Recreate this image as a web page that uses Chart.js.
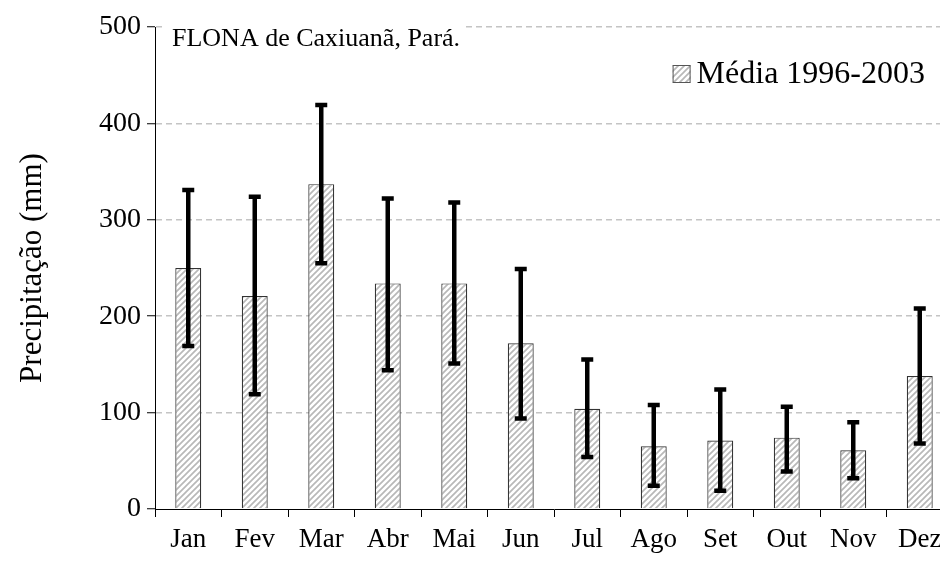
<!DOCTYPE html>
<html>
<head>
<meta charset="utf-8">
<script src="https://cdn.jsdelivr.net/npm/chart.js@4.4.0/dist/chart.umd.min.js"></script>
<style>
  html, body { margin: 0; padding: 0; background: #fff; overflow: hidden; }
</style>
</head>
<body>
<canvas id="rainChart" width="960" height="565"></canvas>
<script>
const months = ["Jan", "Fev", "Mar", "Abr", "Mai", "Jun", "Jul", "Ago", "Set", "Out", "Nov", "Dez"];
const rainMean = [250, 221, 337, 234, 234, 172, 104, 65, 71, 74, 61, 138];
const rainHigh = [331, 324, 419, 322, 318, 249, 155, 108, 124, 106, 90, 208];
const rainLow = [169, 119, 255, 144, 151, 94, 54, 24, 19, 39, 32, 68];
const yTicks = [0, 100, 200, 300, 400, 500];
const seriesLabel = "Média 1996-2003";
const siteTitle = "FLONA de Caxiuanã, Pará.";

const FONT = "'Liberation Serif', 'Times New Roman', serif";

// hachura diagonal cinza
function makeHatch() {
  const c = document.createElement("canvas");
  c.width = 6;
  c.height = 6;
  const g = c.getContext("2d");
  g.fillStyle = "#fff";
  g.fillRect(0, 0, 6, 6);
  g.strokeStyle = "#b8b8b8";
  g.lineWidth = 1.7;
  g.beginPath();
  g.moveTo(-1, 7); g.lineTo(7, -1);
  g.moveTo(-1, 1); g.lineTo(1, -1);
  g.moveTo(5, 7); g.lineTo(7, 5);
  g.stroke();
  return g.createPattern(c, "repeat");
}
const hatch = makeHatch();

// barras de erro, título e legenda
const extras = {
  id: "extras",
  afterDatasetsDraw(chart) {
    const ctx = chart.ctx;
    const meta = chart.getDatasetMeta(0);
    const y = chart.scales.y;
    ctx.save();
    ctx.strokeStyle = "#000";
    ctx.lineWidth = 4.5;
    meta.data.forEach((bar, i) => {
      const yHi = y.getPixelForValue(rainHigh[i]);
      const yLo = y.getPixelForValue(rainLow[i]);
      ctx.beginPath();
      ctx.moveTo(bar.x, yHi);
      ctx.lineTo(bar.x, yLo);
      ctx.moveTo(bar.x - 6, yHi);
      ctx.lineTo(bar.x + 6, yHi);
      ctx.moveTo(bar.x - 6, yLo);
      ctx.lineTo(bar.x + 6, yLo);
      ctx.stroke();
    });
    ctx.restore();
  },
  afterDraw(chart) {
    const ctx = chart.ctx;
    const area = chart.chartArea;
    ctx.save();
    ctx.textBaseline = "middle";

    // título dentro do gráfico
    ctx.font = "26px " + FONT;
    const tw = ctx.measureText(siteTitle).width;
    ctx.fillStyle = "#fff";
    ctx.fillRect(area.left + 10, area.top - 6, tw + 12, 34);
    ctx.fillStyle = "#000";
    ctx.fillText(siteTitle, area.left + 17, area.top + 12);

    // legenda
    ctx.font = "32px " + FONT;
    const lw = ctx.measureText(seriesLabel).width;
    const tx = area.right - 28 - lw;
    const ly = area.top + 47;
    ctx.fillStyle = hatch;
    ctx.fillRect(tx - 24, ly - 9, 18, 18);
    ctx.strokeStyle = "#555";
    ctx.lineWidth = 1;
    ctx.strokeRect(tx - 23.5, ly - 8.5, 17, 17);
    ctx.fillStyle = "#000";
    ctx.fillText(seriesLabel, tx, ly + 1);
    ctx.restore();
  }
};

new Chart(document.getElementById("rainChart"), {
  type: "bar",
  data: {
    labels: months,
    datasets: [{
      label: seriesLabel,
      data: rainMean,
      backgroundColor: hatch,
      borderColor: "#333",
      borderWidth: 1.2,
      categoryPercentage: 1,
      barPercentage: 0.39
    }]
  },
  options: {
    responsive: false,
    animation: false,
    layout: { padding: { top: 27, right: 7, left: 0, bottom: 0 } },
    plugins: {
      legend: { display: false },
      tooltip: { enabled: false }
    },
    scales: {
      x: {
        offset: true,
        grid: {
          offset: true,
          drawOnChartArea: false,
          tickLength: 8,
          tickColor: "#000"
        },
        border: { color: "#000", width: 1 },
        ticks: {
          color: "#000",
          padding: 7,
          font: { family: FONT, size: 27 }
        },
        afterFit(scale) { scale.height = 56; }
      },
      y: {
        min: 0,
        max: 500,
        afterBuildTicks(scale) { scale.ticks = yTicks.map(v => ({ value: v })); },
        grid: {
          color: ctx => (ctx.tick && ctx.tick.value === 0 ? "rgba(0,0,0,0)" : "#c4c4c4"),
          lineWidth: 1.5,
          tickLength: 8,
          tickColor: "#000",
          tickWidth: 1
        },
        border: { color: "#000", width: 1, dash: [6, 4] },
        ticks: {
          color: "#000",
          padding: 6,
          font: { family: FONT, size: 28 }
        },
        title: {
          display: true,
          text: "Precipitação (mm)",
          color: "#000",
          padding: { top: 14, bottom: 0 },
          font: { family: FONT, size: 31 }
        },
        afterFit(scale) { scale.width = 155; }
      }
    }
  },
  plugins: [extras]
});
</script>
</body>
</html>
